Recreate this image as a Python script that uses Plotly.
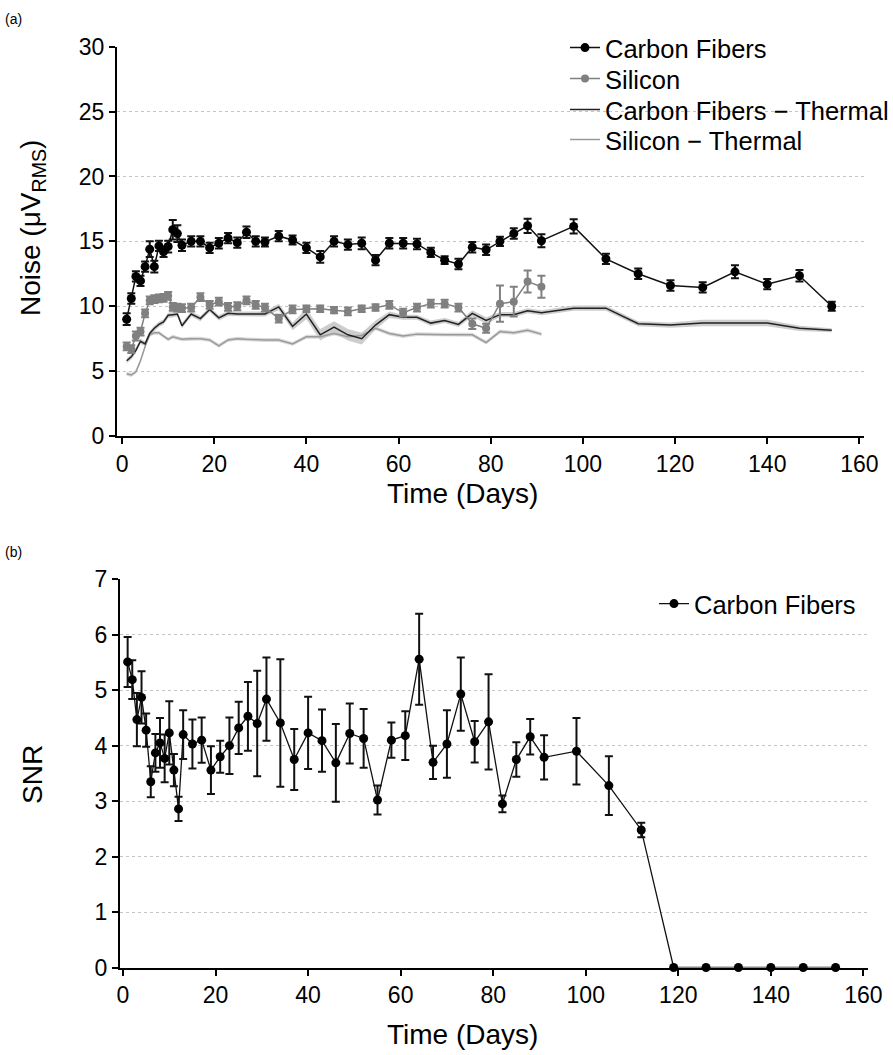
import plotly.graph_objects as go

# ---------------- data ----------------
cf_days = [1, 2, 3, 4, 5, 6, 7, 8, 9, 10, 11, 12, 13, 15, 17, 19, 21, 23, 25, 27, 29, 31,
           34, 37, 40, 43, 46, 49, 52, 55, 58, 61, 64, 67, 70, 73, 76, 79, 82, 85, 88, 91,
           98, 105, 112, 119, 126, 133, 140, 147, 154]
cf_noise = [9.0, 10.6, 12.3, 11.95, 13.05, 14.4, 13.05, 14.65, 14.2, 14.6, 15.9, 15.6, 14.7,
            15.0, 15.0, 14.5, 14.85, 15.25, 14.9, 15.7, 15.0, 14.95,
            15.4, 15.1, 14.5, 13.8, 15.0, 14.75, 14.85, 13.55, 14.85, 14.85, 14.8, 14.15,
            13.55, 13.25, 14.55, 14.35, 15.0, 15.6, 16.2, 15.05,
            16.15, 13.65, 12.5, 11.6, 11.45, 12.65, 11.7, 12.35, 10.0]
cf_noise_err = [0.45, 0.4, 0.4, 0.4, 0.4, 0.6, 0.45, 0.4, 0.4, 0.45, 0.75, 0.65, 0.45,
                0.4, 0.4, 0.4, 0.4, 0.4, 0.4, 0.45, 0.4, 0.35,
                0.4, 0.35, 0.4, 0.45, 0.4, 0.4, 0.45, 0.4, 0.4, 0.4, 0.4, 0.35,
                0.3, 0.4, 0.4, 0.4, 0.35, 0.4, 0.55, 0.5,
                0.55, 0.4, 0.4, 0.4, 0.4, 0.5, 0.4, 0.45, 0.35]

si_days = [1, 2, 3, 4, 5, 6, 7, 8, 9, 10, 11, 12, 13, 15, 17, 19, 21, 23, 25, 27, 29, 31,
           34, 37, 40, 43, 46, 49, 52, 55, 58, 61, 64, 67, 70, 73, 76, 79, 82, 85, 88, 91]
si_noise = [6.9, 6.7, 7.7, 8.05, 9.45, 10.45, 10.55, 10.6, 10.65, 10.8, 9.95, 9.9, 9.85,
            9.9, 10.7, 10.1, 10.35, 9.95, 10.0, 10.45, 10.1, 9.9,
            9.05, 9.75, 9.8, 9.8, 9.7, 9.6, 9.8, 9.9, 10.1, 9.5, 9.9, 10.2, 10.2, 9.9,
            8.65, 8.3, 10.2, 10.35, 11.9, 11.5]
si_noise_err = [0.3, 0.3, 0.35, 0.3, 0.3, 0.3, 0.3, 0.3, 0.3, 0.3, 0.3, 0.3, 0.3,
                0.3, 0.3, 0.3, 0.3, 0.3, 0.3, 0.3, 0.3, 0.3,
                0.3, 0.3, 0.25, 0.25, 0.25, 0.3, 0.25, 0.25, 0.3, 0.3, 0.3, 0.3, 0.3, 0.3,
                0.4, 0.35, 1.4, 1.15, 0.85, 0.85]

cf_thermal = [5.8, 6.1, 6.6, 7.3, 7.1, 7.9, 8.3, 8.6, 8.8, 9.3, 9.35, 9.4, 8.5,
              9.4, 9.05, 9.75, 9.1, 9.45, 9.4, 9.4, 9.4, 9.4,
              9.95, 8.45, 9.4, 7.8, 8.4, 7.8, 7.5, 8.55, 9.35, 9.15, 9.15, 8.7,
              8.9, 8.6, 9.45, 8.9, 9.35, 9.35, 9.65, 9.5,
              9.85, 9.85, 8.65, 8.55, 8.7, 8.7, 8.7, 8.3, 8.15]
cf_thermal_band = [0.2, 0.2, 0.2, 0.2, 0.2, 0.2, 0.2, 0.2, 0.2, 0.2, 0.2, 0.2, 0.2,
                   0.2, 0.2, 0.2, 0.2, 0.2, 0.2, 0.2, 0.2, 0.2,
                   0.25, 0.3, 0.4, 0.45, 0.45, 0.45, 0.45, 0.35, 0.25, 0.2, 0.2, 0.2,
                   0.2, 0.2, 0.25, 0.25, 0.2, 0.2, 0.2, 0.2,
                   0.2, 0.2, 0.2, 0.2, 0.25, 0.25, 0.25, 0.2, 0.15]

si_thermal = [4.8, 4.7, 4.95, 5.8, 6.9, 7.8, 7.95, 7.95, 7.7, 7.45, 7.65, 7.55, 7.45,
              7.5, 7.5, 7.4, 6.95, 7.4, 7.5, 7.45, 7.4, 7.4,
              7.4, 7.1, 7.65, 7.65, 7.9, 7.65, 7.75, 8.3, 7.9, 7.7, 7.85, 7.8, 7.8, 7.8,
              7.8, 7.2, 8.05, 7.95, 8.15, 7.85]
si_thermal_band = [0.15, 0.15, 0.15, 0.15, 0.15, 0.15, 0.15, 0.15, 0.15, 0.15,
                   0.15, 0.15, 0.15, 0.15, 0.15, 0.15, 0.15, 0.15, 0.15, 0.15,
                   0.15, 0.15, 0.15, 0.15, 0.15, 0.15, 0.15, 0.15, 0.15, 0.15,
                   0.15, 0.15, 0.15, 0.15, 0.15, 0.15, 0.15, 0.15, 0.15, 0.15,
                   0.15, 0.15]

snr = [5.51, 5.19, 4.47, 4.87, 4.28, 3.35, 3.87, 4.05, 3.77, 4.23, 3.56, 2.86, 4.2,
       4.03, 4.1, 3.56, 3.8, 4.0, 4.32, 4.53, 4.4, 4.84,
       4.41, 3.75, 4.23, 4.09, 3.69, 4.22, 4.13, 3.02, 4.1, 4.18, 5.56, 3.7, 4.03, 4.93,
       4.07, 4.43, 2.95, 3.75, 4.16, 3.79,
       3.9, 3.28, 2.48, 0, 0, 0, 0, 0, 0]
snr_err = [0.45, 0.35, 0.48, 0.47, 0.3, 0.28, 0.34, 0.45, 0.43, 0.57, 0.29, 0.22, 0.44,
           0.44, 0.41, 0.43, 0.29, 0.51, 0.47, 0.62, 0.95, 0.75,
           1.15, 0.55, 0.65, 0.56, 0.7, 0.54, 0.53, 0.26, 0.32, 0.44, 0.82, 0.3, 0.61, 0.66,
           0.375, 0.86, 0.15, 0.31, 0.32, 0.4,
           0.6, 0.53, 0.13, 0, 0, 0, 0, 0, 0]

x_ticks = [0, 20, 40, 60, 80, 100, 120, 140, 160]
noise_ticks = [0, 5, 10, 15, 20, 25, 30]
snr_ticks = [0, 1, 2, 3, 4, 5, 6, 7]

# ---------------- figure ----------------
W, H = 893, 1055
FONT = "Liberation Sans, Arial, Helvetica, sans-serif"
fig = go.Figure()


def band(days, vals, half, color, xa, ya):
    up = [v + h for v, h in zip(vals, half)]
    lo = [v - h for v, h in zip(vals, half)]
    fig.add_trace(go.Scatter(x=days + days[::-1], y=up + lo[::-1], fill="toself",
                             fillcolor=color, line=dict(width=0), mode="lines",
                             hoverinfo="skip", showlegend=False, xaxis=xa, yaxis=ya))


band(si_days, si_thermal, si_thermal_band, "rgba(215,215,215,0.9)", "x", "y")
band(cf_days, cf_thermal, cf_thermal_band, "rgba(200,200,200,0.9)", "x", "y")

fig.add_trace(go.Scatter(x=si_days, y=si_thermal, mode="lines", name="Silicon \u2212 Thermal",
                         line=dict(color="#9a9a9a", width=1.5), legend="legend5",
                         xaxis="x", yaxis="y"))
fig.add_trace(go.Scatter(x=cf_days, y=cf_thermal, mode="lines", name="Carbon Fibers \u2212 Thermal",
                         line=dict(color="#222222", width=1.5), legend="legend4",
                         xaxis="x", yaxis="y"))
fig.add_trace(go.Scatter(x=si_days, y=si_noise, mode="lines+markers", name="Silicon",
                         line=dict(color="#808080", width=1.5),
                         marker=dict(color="#808080", size=8),
                         error_y=dict(type="data", array=si_noise_err, color="#808080",
                                      thickness=2, width=4),
                         legend="legend3", xaxis="x", yaxis="y"))
fig.add_trace(go.Scatter(x=cf_days, y=cf_noise, mode="lines+markers", name="Carbon Fibers",
                         line=dict(color="#111111", width=1.5),
                         marker=dict(color="#000000", size=9),
                         error_y=dict(type="data", array=cf_noise_err, color="#111111",
                                      thickness=2, width=4),
                         legend="legend", xaxis="x", yaxis="y"))

fig.add_trace(go.Scatter(x=cf_days, y=snr, mode="lines+markers", name="Carbon Fibers",
                         line=dict(color="#111111", width=1.3),
                         marker=dict(color="#000000", size=9),
                         error_y=dict(type="data", array=snr_err, color="#111111",
                                      thickness=2, width=4),
                         cliponaxis=False, legend="legend2", xaxis="x2", yaxis="y2"))

axis_common = dict(showline=True, linecolor="black", linewidth=2, ticks="outside",
                   ticklen=6, tickwidth=2, tickcolor="black", zeroline=False,
                   tickfont=dict(family=FONT, size=23, color="black"))

LEG_FONT = dict(family=FONT, size=25.5, color="black")


def leg(text_x, center_y):
    return dict(x=(text_x - 41) / W, y=1 - center_y / H, xanchor="left", yanchor="middle",
                font=LEG_FONT, itemwidth=30, bgcolor="rgba(0,0,0,0)")


fig.update_layout(
    width=W, height=H, margin=dict(l=0, r=0, t=0, b=0, autoexpand=False),
    plot_bgcolor="white", paper_bgcolor="white",
    font=dict(family=FONT, color="black"),
    xaxis=dict(domain=[117 / W, 864 / W], range=[-1.1, 161], tickvals=x_ticks,
               showgrid=False, anchor="y", **axis_common),
    yaxis=dict(domain=[1 - 436 / H, 1 - 46.7 / H], range=[0, 30], tickvals=noise_ticks,
               showgrid=True, gridcolor="#c4c4c4", griddash="dot", gridwidth=1,
               anchor="x", **axis_common),
    xaxis2=dict(domain=[120 / W, 868 / W], range=[-0.65, 161], tickvals=x_ticks,
                showgrid=False, anchor="y2", **axis_common),
    yaxis2=dict(domain=[1 - 967.5 / H, 1 - 579.3 / H], range=[0, 7], tickvals=snr_ticks,
                showgrid=True, gridcolor="#c4c4c4", griddash="dot", gridwidth=1,
                anchor="x2", **axis_common),
    legend=leg(606, 48),
    legend3=leg(606, 79),
    legend4=leg(606, 110),
    legend5=leg(606, 140),
    legend2=leg(695, 604),
    showlegend=True,
)

annos = [
    dict(text="(a)", x=3 / W, y=1 - 19 / H, xanchor="left", yanchor="middle",
         font=dict(size=14)),
    dict(text="(b)", x=3 / W, y=1 - 552 / H, xanchor="left", yanchor="middle",
         font=dict(size=14)),
    dict(text="Noise (\u03bcV<sub>RMS</sub>)", x=32 / W, y=1 - 228 / H, textangle=-90,
         xanchor="center", yanchor="middle", font=dict(size=28)),
    dict(text="Time (Days)", x=463 / W, y=1 - 493 / H, xanchor="center", yanchor="middle",
         font=dict(size=28)),
    dict(text="SNR", x=32 / W, y=1 - 775 / H, textangle=-90,
         xanchor="center", yanchor="middle", font=dict(size=28)),
    dict(text="Time (Days)", x=463 / W, y=1 - 1034 / H, xanchor="center", yanchor="middle",
         font=dict(size=28)),
]
for a in annos:
    a.update(xref="paper", yref="paper", showarrow=False)
    a["font"] = dict(family=FONT, color="black", **a["font"])
    fig.add_annotation(**a)

fig.write_html("out.html")
